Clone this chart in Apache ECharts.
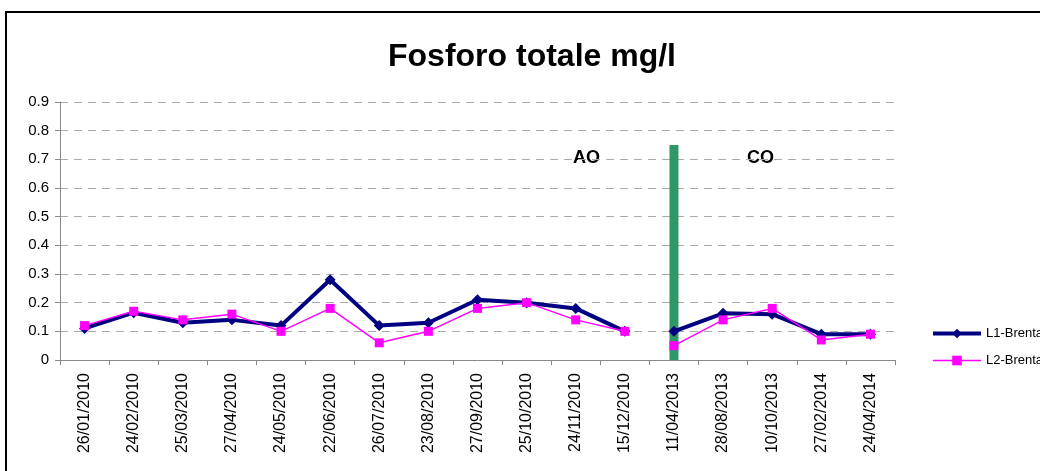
<!DOCTYPE html>
<html>
<head>
<meta charset="utf-8">
<title>Fosforo totale mg/l</title>
<script src="https://cdn.jsdelivr.net/npm/echarts@6/dist/echarts.min.js"></script>
<style>
  html, body { margin: 0; padding: 0; background: #fff; overflow: hidden; }
  #frame {
    position: absolute; left: 5px; top: 11px; width: 1100px; height: 520px;
    border-left: 2px solid #000; border-top: 2px solid #000; pointer-events: none;
  }
  #myChart { position: absolute; left: 0; top: 0; width: 1040px; height: 471px; }
</style>
</head>
<body>
<div id="myChart"></div>
<div id="frame"></div>
<script>
// dati
var dates = ['26/01/2010', '24/02/2010', '25/03/2010', '27/04/2010', '24/05/2010', '22/06/2010',
  '26/07/2010', '23/08/2010', '27/09/2010', '25/10/2010', '24/11/2010', '15/12/2010',
  '11/04/2013', '28/08/2013', '10/10/2013', '27/02/2014', '24/04/2014'];
var l1Brenta = [0.11, 0.165, 0.13, 0.14, 0.12, 0.28, 0.12, 0.13, 0.21, 0.20, 0.18, 0.10,
  0.10, 0.163, 0.16, 0.09, 0.09];
var l2Brenta = [0.12, 0.17, 0.14, 0.16, 0.10, 0.18, 0.06, 0.10, 0.18, 0.20, 0.14, 0.10,
  0.05, 0.14, 0.18, 0.07, 0.09];
// separazione AO / CO
var dividerIndex = 12;
var dividerValue = 0.75;
var lastAO = 11;

function part(values, first) {
  // first = true -> periodo AO, altrimenti CO
  return values.map(function (v, i) {
    return (first ? i <= lastAO : i > lastAO) ? v : null;
  });
}

var dividerData = dates.map(function (d, i) { return i === dividerIndex ? dividerValue : null; });

var myChart = echarts.init(document.getElementById('myChart'));
var font = 'Liberation Sans, Arial, sans-serif';

var l1Style = {
  type: 'line', name: 'L1-Brenta', symbol: 'diamond', symbolSize: 11,
  lineStyle: { color: '#000080', width: 4 },
  itemStyle: { color: '#000080' }, z: 3, connectNulls: false
};
var l2Style = {
  type: 'line', name: 'L2-Brenta', symbol: 'rect', symbolSize: 9,
  lineStyle: { color: '#ff00ff', width: 1.5 },
  itemStyle: { color: '#ff00ff' }, z: 4, connectNulls: false
};

var option = {
  animation: false,
  title: {
    text: 'Fosforo totale mg/l',
    left: 383,
    top: 36,
    textStyle: { fontFamily: font, fontSize: 32, fontWeight: 'bold', color: '#000' }
  },
  legend: {
    data: [
      { name: 'L1-Brenta', lineStyle: { width: 4 } },
      { name: 'L2-Brenta', lineStyle: { width: 1.5 } }
    ],
    orient: 'vertical',
    left: 926,
    top: 322,
    itemGap: 14,
    itemWidth: 48,
    itemHeight: 12,
    textStyle: { fontFamily: font, fontSize: 13, color: '#000' }
  },
  grid: { left: 60, right: 145, top: 102, bottom: 111 },
  xAxis: {
    type: 'category',
    data: dates,
    boundaryGap: true,
    axisLine: { lineStyle: { color: '#888' } },
    axisTick: { show: true, length: 5, lineStyle: { color: '#888' } },
    axisLabel: { rotate: 90, interval: 0, margin: 13, fontFamily: font, fontSize: 16, color: '#000' }
  },
  yAxis: {
    type: 'value',
    min: 0,
    max: 0.9,
    interval: 0.1,
    axisLine: { show: true, lineStyle: { color: '#888' } },
    axisTick: { show: true, length: 5, lineStyle: { color: '#888' } },
    axisLabel: {
      margin: 11, fontFamily: font, fontSize: 15, color: '#000',
      formatter: function (v) { return v === 0 ? '0' : v.toFixed(1); }
    },
    splitLine: { lineStyle: { color: '#aaa', type: [8, 6] } }
  },
  graphic: [
    { type: 'text', left: 573, top: 149, style: { text: 'AO', font: 'bold 18px ' + font, fill: '#000' } },
    { type: 'text', left: 747, top: 149, style: { text: 'CO', font: 'bold 18px ' + font, fill: '#000' } }
  ],
  series: [
    { type: 'bar', name: 'divisione', data: dividerData, barWidth: 9, barGap: '-100%',
      itemStyle: { color: '#2e9966' }, z: 2 },
    Object.assign({}, l1Style, { data: part(l1Brenta, true) }),
    Object.assign({}, l1Style, { data: part(l1Brenta, false) }),
    Object.assign({}, l2Style, { data: part(l2Brenta, true) }),
    Object.assign({}, l2Style, { data: part(l2Brenta, false) })
  ]
};

myChart.setOption(option);
</script>
</body>
</html>
